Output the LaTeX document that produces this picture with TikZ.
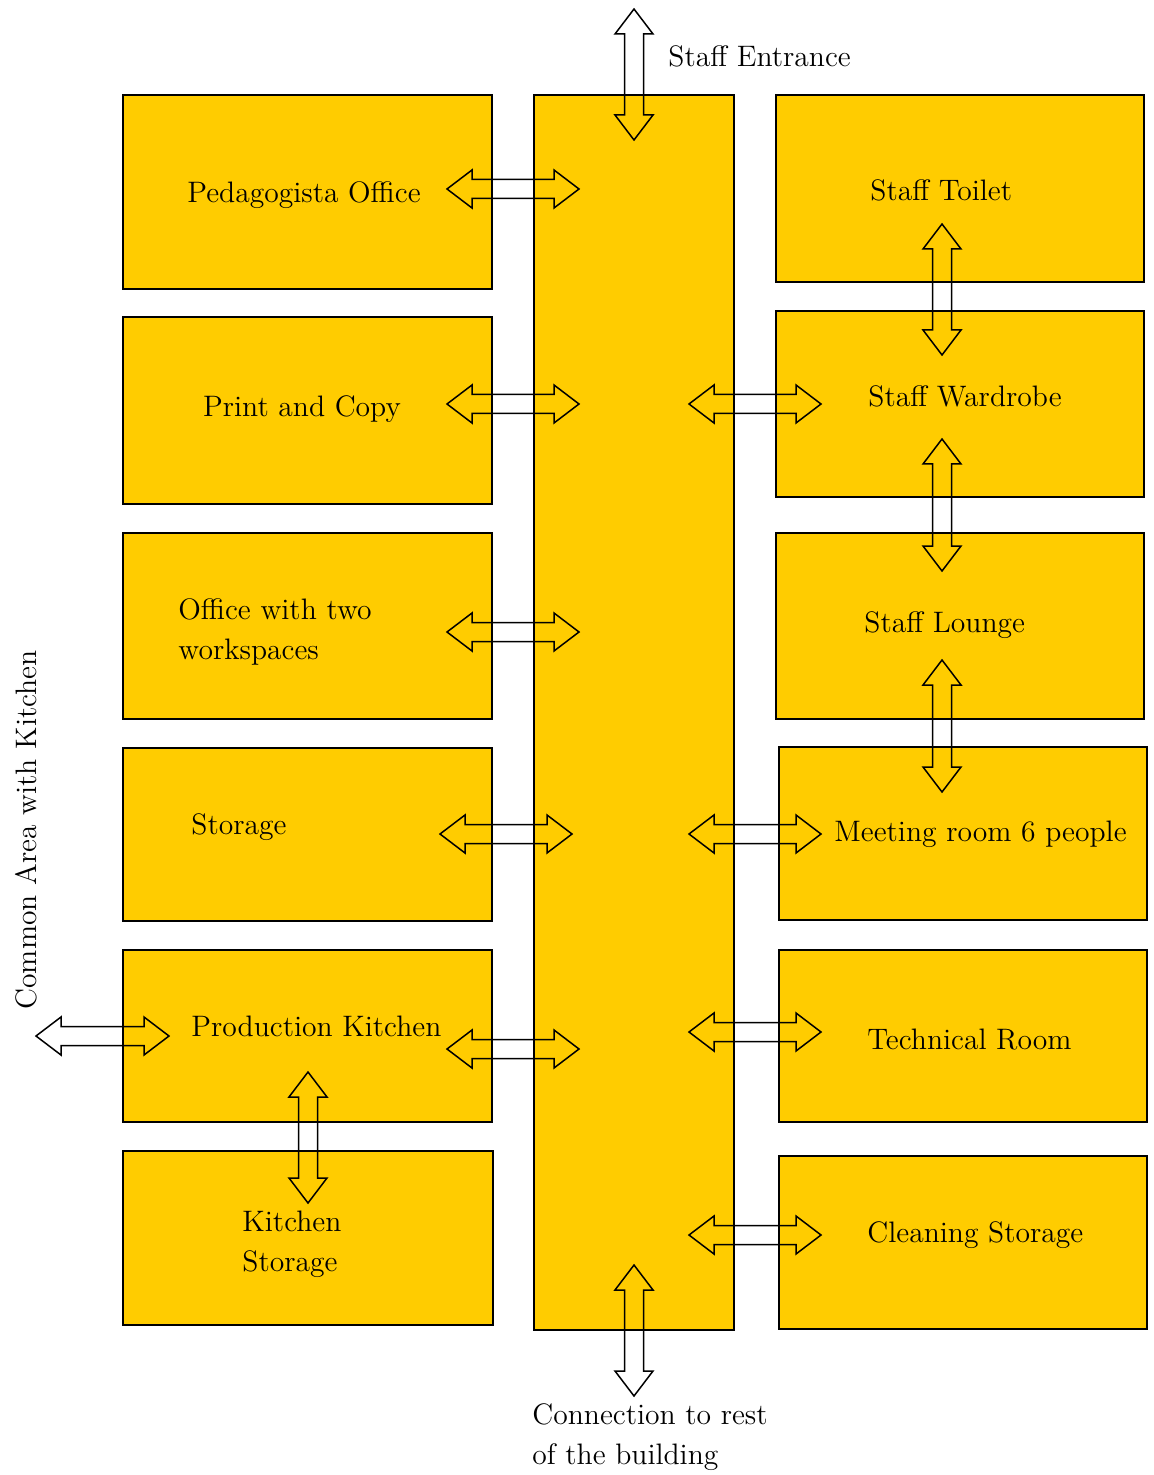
\documentclass[tikz,border=0pt]{standalone}
\definecolor{roomyellow}{RGB}{255,204,0}
\tikzset{
  room/.style={draw=black, line width=1pt, fill=roomyellow},
  arr/.style={draw=black, line width=0.75pt, line join=miter},
  lbl/.style={inner sep=0pt, font=\fontsize{14.8}{18}\selectfont, anchor=base west},
  clbl/.style={lbl, anchor=base},
}
% horizontal double arrow: x1, x2, y
\newcommand{\harrow}[3]{%
  \draw[arr] (#1,#3) -- ({#1+25},{#3-19}) -- ({#1+25},{#3-9.5}) -- ({#2-25},{#3-9.5})
    -- ({#2-25},{#3-19}) -- (#2,#3) -- ({#2-25},{#3+19}) -- ({#2-25},{#3+9.5})
    -- ({#1+25},{#3+9.5}) -- ({#1+25},{#3+19}) -- cycle;}
% vertical double arrow: x, y1, y2
\newcommand{\varrow}[3]{%
  \draw[arr] (#1,#2) -- ({#1+19},{#2+25}) -- ({#1+9.5},{#2+25}) -- ({#1+9.5},{#3-25})
    -- ({#1+19},{#3-25}) -- (#1,#3) -- ({#1-19},{#3-25}) -- ({#1-9.5},{#3-25})
    -- ({#1-9.5},{#2+25}) -- ({#1-19},{#2+25}) -- cycle;}
\begin{document}
\begin{tikzpicture}[x=0.5pt,y=-0.5pt]
\useasboundingbox (0,0) rectangle (1153,1475);
% corridor
\draw[room] (534,95) rectangle (734,1330);
% left rooms
\draw[room] (123,95) rectangle (492,289);
\draw[room] (123,317) rectangle (492,504);
\draw[room] (123,533) rectangle (492,719);
\draw[room] (123,748) rectangle (492,921);
\draw[room] (123,950) rectangle (492,1122);
\draw[room] (123,1151) rectangle (493,1325);
% right rooms
\draw[room] (776,95) rectangle (1144,282);
\draw[room] (776,311) rectangle (1144,497);
\draw[room] (776,533) rectangle (1144,719);
\draw[room] (779,747) rectangle (1147,920);
\draw[room] (779,950) rectangle (1147,1122);
\draw[room] (779,1156) rectangle (1147,1329);
% arrows left
\harrow{447}{579}{189}
\harrow{447}{579}{404}
\harrow{447}{579}{632}
\harrow{440}{572}{834}
\harrow{447}{579}{1049}
\harrow{36}{169}{1036}
% arrows right
\harrow{689}{821}{404}
\harrow{689}{821}{834}
\harrow{689}{821}{1032}
\harrow{689}{821}{1235}
% vertical arrows
\varrow{634}{9}{140}
\varrow{634}{1265}{1396}
\varrow{942}{224}{355}
\varrow{942}{439}{571}
\varrow{942}{660}{792}
\varrow{308}{1072}{1203}
% labels
\node[lbl] (entr) at (668,67) {Staff Entrance};
\node[clbl] (ped) at (304,203) {Pedagogista Office};
\node[clbl] (print) at (302,417) {Print and Copy};
\node[lbl] (off1) at (178,619) {Office with two};
\node[lbl] (off2) at (178,659) {workspaces};
\node[lbl] (stor) at (191,834) {Storage};
\node[lbl] (prod) at (191,1036) {Production Kitchen};
\node[lbl] (kit1) at (242,1231) {Kitchen};
\node[lbl] (kit2) at (242,1271) {Storage};
\node[lbl] (toil) at (870,201) {Staff Toilet};
\node[lbl] (ward) at (868,407) {Staff Wardrobe};
\node[lbl] (loun) at (864,632) {Staff Lounge};
\node[lbl] (meet) at (834,841) {Meeting room 6 people};
\node[lbl] (tech) at (867,1049) {Technical Room};
\node[lbl] (clean) at (867,1242) {Cleaning Storage};
\node[lbl] (conn1) at (532,1424) {Connection to rest};
\node[lbl] (conn2) at (532,1464) {of the building};
\node[clbl, rotate=90] (common) at (36,830) {Common Area with Kitchen};
\end{tikzpicture}
\end{document}
